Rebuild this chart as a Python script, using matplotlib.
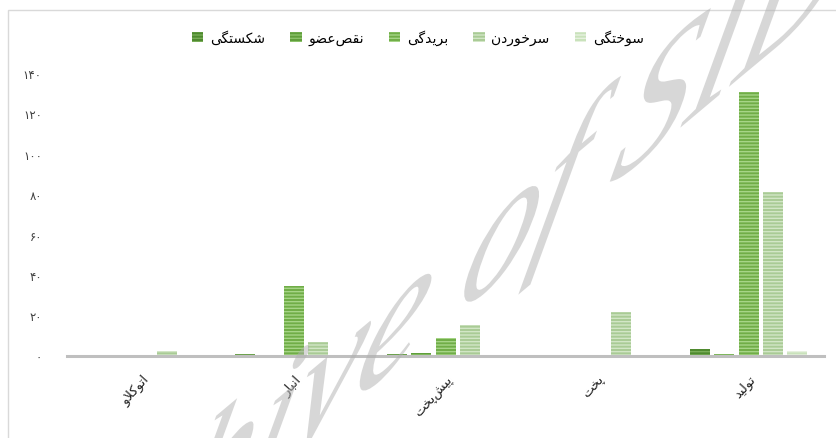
import matplotlib
matplotlib.use("Agg")
import matplotlib.pyplot as plt
import numpy as np
from matplotlib.textpath import TextPath
from matplotlib.patches import PathPatch, Rectangle
from matplotlib.font_manager import FontProperties
from matplotlib.transforms import Affine2D

# ---------------- data ----------------
categories = ['اتوکلاو', 'انبار', 'پیش‌پخت', 'پخت', 'تولید']
series_names = ['شکستگی', 'نقص‌عضو', 'بریدگی', 'سرخوردن', 'سوختگی']
shekastegi = [0, 0.7, 0.7, 0, 3.5]
naghs_ozv = [0, 0, 1.5, 0, 0.7]
boridegi = [0, 34.5, 9, 0, 130.5]
sorkhordan = [2.5, 7, 15.3, 21.8, 81]
sookhtegi = [0, 0.5, 0, 0, 2.5]
y_ticks = [0, 20, 40, 60, 80, 100, 120, 140]

series_values = [shekastegi, naghs_ozv, boridegi, sorkhordan, sookhtegi]
colors = ['#4e8a2e', '#5f9e3a', '#70ad47', '#a9cb95', '#c9e2bb']
hatch_colors = ['#79ad58', '#8cc26a', '#a6d487', '#d2e6c6', '#e6f1df']

# ---------------- Persian shaping ----------------
FORMS = {
    'ا': ('\uFE8D', '\uFE8E', None, None),
    'ب': ('\uFE8F', '\uFE90', '\uFE91', '\uFE92'),
    'پ': ('\uFB56', '\uFB57', '\uFB58', '\uFB59'),
    'ت': ('\uFE95', '\uFE96', '\uFE97', '\uFE98'),
    'خ': ('\uFEA5', '\uFEA6', '\uFEA7', '\uFEA8'),
    'د': ('\uFEA9', '\uFEAA', None, None),
    'ر': ('\uFEAD', '\uFEAE', None, None),
    'س': ('\uFEB1', '\uFEB2', '\uFEB3', '\uFEB4'),
    'ش': ('\uFEB5', '\uFEB6', '\uFEB7', '\uFEB8'),
    'ص': ('\uFEB9', '\uFEBA', '\uFEBB', '\uFEBC'),
    'ض': ('\uFEBD', '\uFEBE', '\uFEBF', '\uFEC0'),
    'ع': ('\uFEC9', '\uFECA', '\uFECB', '\uFECC'),
    'ق': ('\uFED5', '\uFED6', '\uFED7', '\uFED8'),
    'ک': ('\uFB8E', '\uFB8F', '\uFB90', '\uFB91'),
    'گ': ('\uFB92', '\uFB93', '\uFB94', '\uFB95'),
    'ل': ('\uFEDD', '\uFEDE', '\uFEDF', '\uFEE0'),
    'ن': ('\uFEE5', '\uFEE6', '\uFEE7', '\uFEE8'),
    'و': ('\uFEED', '\uFEEE', None, None),
    'ی': ('\uFBFC', '\uFBFD', '\uFBFE', '\uFBFF'),
}


def shape(text):
    chars = list(text)
    out = []
    i = 0
    n = len(chars)

    def joins_prev(k):
        if k == 0:
            return False
        p = chars[k - 1]
        return p in FORMS and FORMS[p][2] is not None

    while i < n:
        c = chars[i]
        if c not in FORMS:
            if c != '\u200c':
                out.append(c)
            i += 1
            continue
        if c == 'ل' and i + 1 < n and chars[i + 1] == 'ا':
            out.append('\uFEFC' if joins_prev(i) else '\uFEFB')
            i += 2
            continue
        iso, fin, ini, med = FORMS[c]
        jp = joins_prev(i)
        jn = ini is not None and i + 1 < n and chars[i + 1] in FORMS
        if jp and jn:
            g = med
        elif jp:
            g = fin
        elif jn:
            g = ini
        else:
            g = iso
        out.append(g)
        i += 1
    return ''.join(reversed(out))


def fa_digits(v):
    return str(v).translate(str.maketrans('0123456789', '۰۱۲۳۴۵۶۷۸۹'))


plt.rcParams['font.family'] = ['DejaVu Sans']
plt.rcParams['hatch.linewidth'] = 1.0

fig = plt.figure(figsize=(8.36, 4.39), dpi=100)
ax = fig.add_axes([0.080, 0.187, 0.906, 0.6446])

x = np.arange(len(categories))
n_series = len(series_values)
step = 0.161
width = 0.132
for i, (name, vals) in enumerate(zip(series_names, series_values)):
    ax.bar(x + (i - (n_series - 1) / 2) * step, vals, width=width,
           color=colors[i], edgecolor=hatch_colors[i], linewidth=0,
           hatch='-----', label=shape(name), zorder=2)

ax.set_xlim(-0.5, len(categories) - 0.5)
ax.set_ylim(0, 140)
ax.set_yticks(y_ticks)
ax.set_yticklabels([fa_digits(v) for v in y_ticks], fontsize=8.5, color='#404040')
ax.set_xticks(x)
ax.set_xticklabels([shape(c) for c in categories], rotation=48, ha='right',
                   va='top', rotation_mode='anchor', fontsize=9.5, color='#222222')
ax.tick_params(axis='y', length=0, pad=18)
ax.tick_params(axis='x', length=0, pad=12)
for s in ['top', 'right', 'left']:
    ax.spines[s].set_visible(False)
ax.spines['bottom'].set_color('#bfbfbf')
ax.spines['bottom'].set_linewidth(2.2)
ax.spines['bottom'].set_zorder(3)

leg = fig.legend(loc='center', bbox_to_anchor=(0.50, 0.913), ncol=5,
                 frameon=False, fontsize=10, handlelength=0.8, handleheight=0.7,
                 handletextpad=0.5, columnspacing=1.8)

# chart border
fig.add_artist(Rectangle((8 / 836, -0.1), 1.2, 1 - 11 / 439 + 0.1,
                         transform=fig.transFigure, fill=False,
                         edgecolor='#d9d9d9', linewidth=1.0))

# watermark (sheared text)
fp = FontProperties(family='Liberation Serif', style='italic', weight='normal')
tp = TextPath((0, 0), 'Archive of SID', size=1, prop=fp)
alpha_deg, beta_deg, s = 40, 75, 195
a, b = np.radians(alpha_deg), np.radians(beta_deg)
M = np.array([[s * np.cos(a), s * np.cos(b), 0],
              [s * np.sin(a), s * np.sin(b), 0],
              [0, 0, 1]])
anchor_glyph = np.array([1.78, 0.35])
anchor_px = np.array([240, -8])
off = anchor_px - M[:2, :2] @ anchor_glyph
M[0, 2], M[1, 2] = off
wm = PathPatch(tp, transform=Affine2D(M), facecolor='#b0b0b0',
               edgecolor='none', alpha=0.5, zorder=10)
fig.add_artist(wm)

fig.savefig('out.png', dpi=100)
